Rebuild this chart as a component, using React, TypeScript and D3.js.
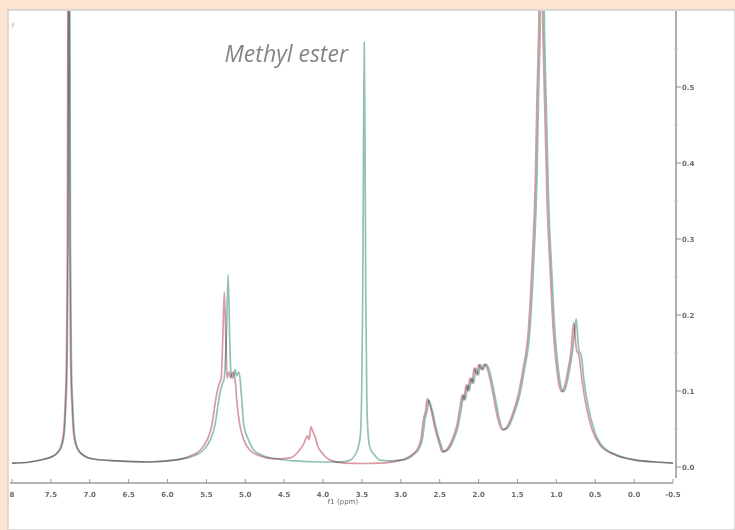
import React, { useEffect, useRef } from "react";
import * as d3 from "d3";

// [ppm, intensity] pairs
const sampleSpectrum: [number, number][] = [
  [8.0, 0.005], [7.77, 0.0066], [7.58, 0.0105], [7.45, 0.016], [7.38, 0.025],
  [7.34, 0.042], [7.32, 0.075], [7.3, 0.14], [7.288, 0.29], [7.279, 0.8],
  [7.274, 1.5], [7.269, 0.8], [7.258, 0.29], [7.246, 0.14], [7.226, 0.075],
  [7.206, 0.042], [7.166, 0.025], [7.096, 0.016], [6.96, 0.0105], [6.65, 0.008],
  [6.25, 0.0066], [5.92, 0.009], [5.71, 0.0145], [5.58, 0.022], [5.49, 0.036],
  [5.43, 0.055], [5.39, 0.082], [5.36, 0.1], [5.34, 0.108], [5.31, 0.117],
  [5.29, 0.167], [5.27, 0.23], [5.25, 0.167], [5.235, 0.117], [5.21, 0.125],
  [5.19, 0.117], [5.16, 0.125], [5.13, 0.114], [5.11, 0.088], [5.07, 0.055],
  [5.02, 0.036], [4.94, 0.022], [4.81, 0.0145], [4.62, 0.0105], [4.42, 0.012],
  [4.32, 0.02], [4.25, 0.03], [4.2, 0.041], [4.18, 0.036], [4.155, 0.053],
  [4.13, 0.046], [4.1, 0.039], [4.07, 0.028], [4.0, 0.017], [3.91, 0.009],
  [3.72, 0.005], [3.47, 0.0046], [3.27, 0.005], [3.01, 0.009], [2.86, 0.016],
  [2.78, 0.025], [2.74, 0.038], [2.71, 0.062], [2.68, 0.075], [2.66, 0.09],
  [2.63, 0.082], [2.61, 0.075], [2.57, 0.055], [2.5, 0.029], [2.47, 0.02],
  [2.42, 0.022], [2.34, 0.036], [2.28, 0.055], [2.24, 0.078], [2.21, 0.095],
  [2.19, 0.088], [2.16, 0.108], [2.14, 0.1], [2.11, 0.117], [2.08, 0.11],
  [2.06, 0.13], [2.02, 0.121], [2.0, 0.135], [1.96, 0.128], [1.93, 0.135],
  [1.89, 0.13], [1.85, 0.114], [1.8, 0.088], [1.75, 0.062], [1.7, 0.049],
  [1.65, 0.051], [1.57, 0.068], [1.49, 0.095], [1.43, 0.128], [1.36, 0.18],
  [1.31, 0.272], [1.27, 0.378], [1.25, 0.483], [1.23, 0.562], [1.2, 0.75],
  [1.17, 0.56], [1.145, 0.457], [1.12, 0.351], [1.08, 0.26], [1.04, 0.18],
  [1.0, 0.134], [0.965, 0.108], [0.93, 0.099], [0.89, 0.108], [0.85, 0.128],
  [0.81, 0.154], [0.79, 0.18], [0.775, 0.19], [0.755, 0.167], [0.74, 0.154],
  [0.71, 0.147], [0.67, 0.114], [0.62, 0.082], [0.54, 0.049], [0.44, 0.029],
  [0.25, 0.016], [-0.01, 0.009], [-0.27, 0.0066], [-0.5, 0.005],
];

const esterSpectrum: [number, number][] = [
  [8.0, 0.005], [7.77, 0.0066], [7.58, 0.0105], [7.44, 0.016], [7.37, 0.025],
  [7.33, 0.042], [7.31, 0.075], [7.29, 0.14], [7.278, 0.29], [7.269, 0.8],
  [7.264, 1.5], [7.259, 0.8], [7.248, 0.29], [7.236, 0.14], [7.216, 0.075],
  [7.196, 0.042], [7.156, 0.025], [7.086, 0.016], [6.95, 0.0105], [6.64, 0.008],
  [6.24, 0.0066], [5.9, 0.009], [5.71, 0.013], [5.54, 0.022], [5.45, 0.036],
  [5.39, 0.055], [5.35, 0.082], [5.32, 0.1], [5.3, 0.108], [5.27, 0.117],
  [5.245, 0.167], [5.22, 0.253], [5.2, 0.167], [5.185, 0.125], [5.16, 0.117],
  [5.13, 0.128], [5.11, 0.12], [5.08, 0.125], [5.05, 0.095], [5.02, 0.055],
  [4.96, 0.036], [4.89, 0.022], [4.76, 0.0145], [4.58, 0.0105], [4.36, 0.008],
  [4.04, 0.0066], [3.78, 0.0066], [3.65, 0.009], [3.59, 0.016], [3.55, 0.025],
  [3.52, 0.042], [3.505, 0.088], [3.49, 0.22], [3.48, 0.417], [3.47, 0.559],
  [3.46, 0.417], [3.45, 0.22], [3.437, 0.088], [3.42, 0.042], [3.395, 0.025],
  [3.34, 0.016], [3.27, 0.009], [3.14, 0.008], [2.98, 0.009], [2.84, 0.016],
  [2.76, 0.025], [2.72, 0.038], [2.69, 0.062], [2.66, 0.075], [2.64, 0.088],
  [2.61, 0.08], [2.59, 0.072], [2.55, 0.053], [2.48, 0.028], [2.45, 0.02],
  [2.4, 0.022], [2.32, 0.036], [2.26, 0.055], [2.22, 0.078], [2.19, 0.095],
  [2.17, 0.088], [2.14, 0.108], [2.12, 0.1], [2.09, 0.117], [2.06, 0.11],
  [2.04, 0.13], [2.0, 0.121], [1.98, 0.135], [1.94, 0.128], [1.91, 0.135],
  [1.87, 0.13], [1.83, 0.114], [1.78, 0.088], [1.73, 0.062], [1.68, 0.049],
  [1.63, 0.051], [1.55, 0.068], [1.47, 0.095], [1.41, 0.128], [1.34, 0.18],
  [1.29, 0.272], [1.25, 0.378], [1.23, 0.483], [1.21, 0.562], [1.18, 0.78],
  [1.15, 0.56], [1.125, 0.457], [1.1, 0.351], [1.06, 0.26], [1.02, 0.18],
  [0.98, 0.134], [0.945, 0.108], [0.91, 0.099], [0.87, 0.108], [0.83, 0.128],
  [0.79, 0.154], [0.765, 0.18], [0.745, 0.195], [0.725, 0.17], [0.71, 0.154],
  [0.68, 0.147], [0.645, 0.114], [0.595, 0.082], [0.515, 0.049], [0.42, 0.029],
  [0.23, 0.016], [-0.03, 0.009], [-0.28, 0.0066], [-0.5, 0.005],
];

const xTicks = [8, 7.5, 7, 6.5, 6, 5.5, 5, 4.5, 4, 3.5, 3, 2.5, 2, 1.5, 1, 0.5, 0, -0.5];
const yTicks = [0, 0.1, 0.2, 0.3, 0.4, 0.5];
const yMinorTicks = [0.05, 0.15, 0.25, 0.35, 0.45, 0.55];

const W = 735, H = 530;

const App = () => {
  const svgRef = useRef<SVGSVGElement>(null);

  useEffect(() => {
    const svg = d3.select(svgRef.current);
    svg.selectAll("*").remove();

    const x = d3.scaleLinear().domain([8, -0.5]).range([12, 673]);
    const y = d3.scaleLinear().domain([0, 0.6]).range([467, 11]);

    // frame
    svg.append("rect").attr("width", W).attr("height", H).attr("fill", "#fde4d1");
    svg.append("rect").attr("x", 8).attr("y", 10).attr("width", W - 8).attr("height", H - 10)
      .attr("fill", "#fff").attr("stroke", "#cfcfcf").attr("stroke-width", 1.5);

    svg.append("defs").append("clipPath").attr("id", "plotclip")
      .append("rect").attr("x", 9).attr("y", 11).attr("width", 670).attr("height", 470);

    const line = d3.line<[number, number]>()
      .x(d => x(d[0]))
      .y(d => y(d[1]))
      .curve(d3.curveMonotoneX);

    const g = svg.append("g").attr("clip-path", "url(#plotclip)");
    g.append("path").datum(sampleSpectrum).attr("d", line)
      .attr("fill", "none").attr("stroke", "#d99aa2").attr("stroke-width", 1.7)
      .style("mix-blend-mode", "multiply");
    g.append("path").datum(esterSpectrum).attr("d", line)
      .attr("fill", "none").attr("stroke", "#92c1b4").attr("stroke-width", 1.7)
      .style("mix-blend-mode", "multiply");

    const tickFont = "DejaVu Sans, sans-serif";

    // x axis
    const xa = svg.append("g");
    xa.append("line").attr("x1", 10).attr("x2", 673).attr("y1", 483).attr("y2", 483)
      .attr("stroke", "#9a9a9a").attr("stroke-width", 1.6);
    xa.selectAll(".xt").data(xTicks).enter().append("line")
      .attr("x1", d => x(d)).attr("x2", d => x(d)).attr("y1", 483).attr("y2", 479)
      .attr("stroke", "#9a9a9a");
    xa.selectAll(".xl").data(xTicks).enter().append("text")
      .attr("x", d => x(d)).attr("y", 497).attr("text-anchor", "middle")
      .attr("font-family", tickFont).attr("font-size", 7).attr("font-weight", "bold")
      .attr("fill", "#6a6a6a")
      .text(d => (d === 8 ? "8" : d.toFixed(1)));
    xa.append("text").attr("x", 343).attr("y", 504).attr("text-anchor", "middle")
      .attr("font-family", tickFont).attr("font-size", 7).attr("fill", "#6a6a6a")
      .text("f1 (ppm)");

    // y axis
    const ya = svg.append("g");
    ya.append("line").attr("x1", 676).attr("x2", 676).attr("y1", 11).attr("y2", 478)
      .attr("stroke", "#9a9a9a").attr("stroke-width", 1.6);
    ya.selectAll(".yt").data(yTicks).enter().append("line")
      .attr("x1", 676).attr("x2", 681).attr("y1", d => y(d)).attr("y2", d => y(d))
      .attr("stroke", "#8a8a8a");
    ya.selectAll(".ym").data(yMinorTicks).enter().append("line")
      .attr("x1", 674).attr("x2", 678).attr("y1", d => y(d)).attr("y2", d => y(d))
      .attr("stroke", "#c4c4c4");
    ya.selectAll(".yl").data(yTicks).enter().append("text")
      .attr("x", 682).attr("y", d => y(d) + 2.5)
      .attr("font-family", tickFont).attr("font-size", 7).attr("font-weight", "bold")
      .attr("fill", "#6a6a6a")
      .text(d => d.toFixed(1));

    svg.append("text").attr("x", 13).attr("y", 28).attr("text-anchor", "middle")
      .attr("font-family", tickFont).attr("font-size", 7).attr("fill", "#aaa").text("f");

    svg.append("text").attr("x", 348).attr("y", 62).attr("text-anchor", "end")
      .attr("font-family", "Open Sans, sans-serif").attr("font-style", "italic")
      .attr("font-size", 23).attr("fill", "#858585")
      .text("Methyl ester");
  }, []);

  return (
    <div style={{ position: "absolute", left: 0, top: 0 }}>
      <svg ref={svgRef} width={W} height={H} style={{ display: "block" }}></svg>
    </div>
  );
};

export default App;
